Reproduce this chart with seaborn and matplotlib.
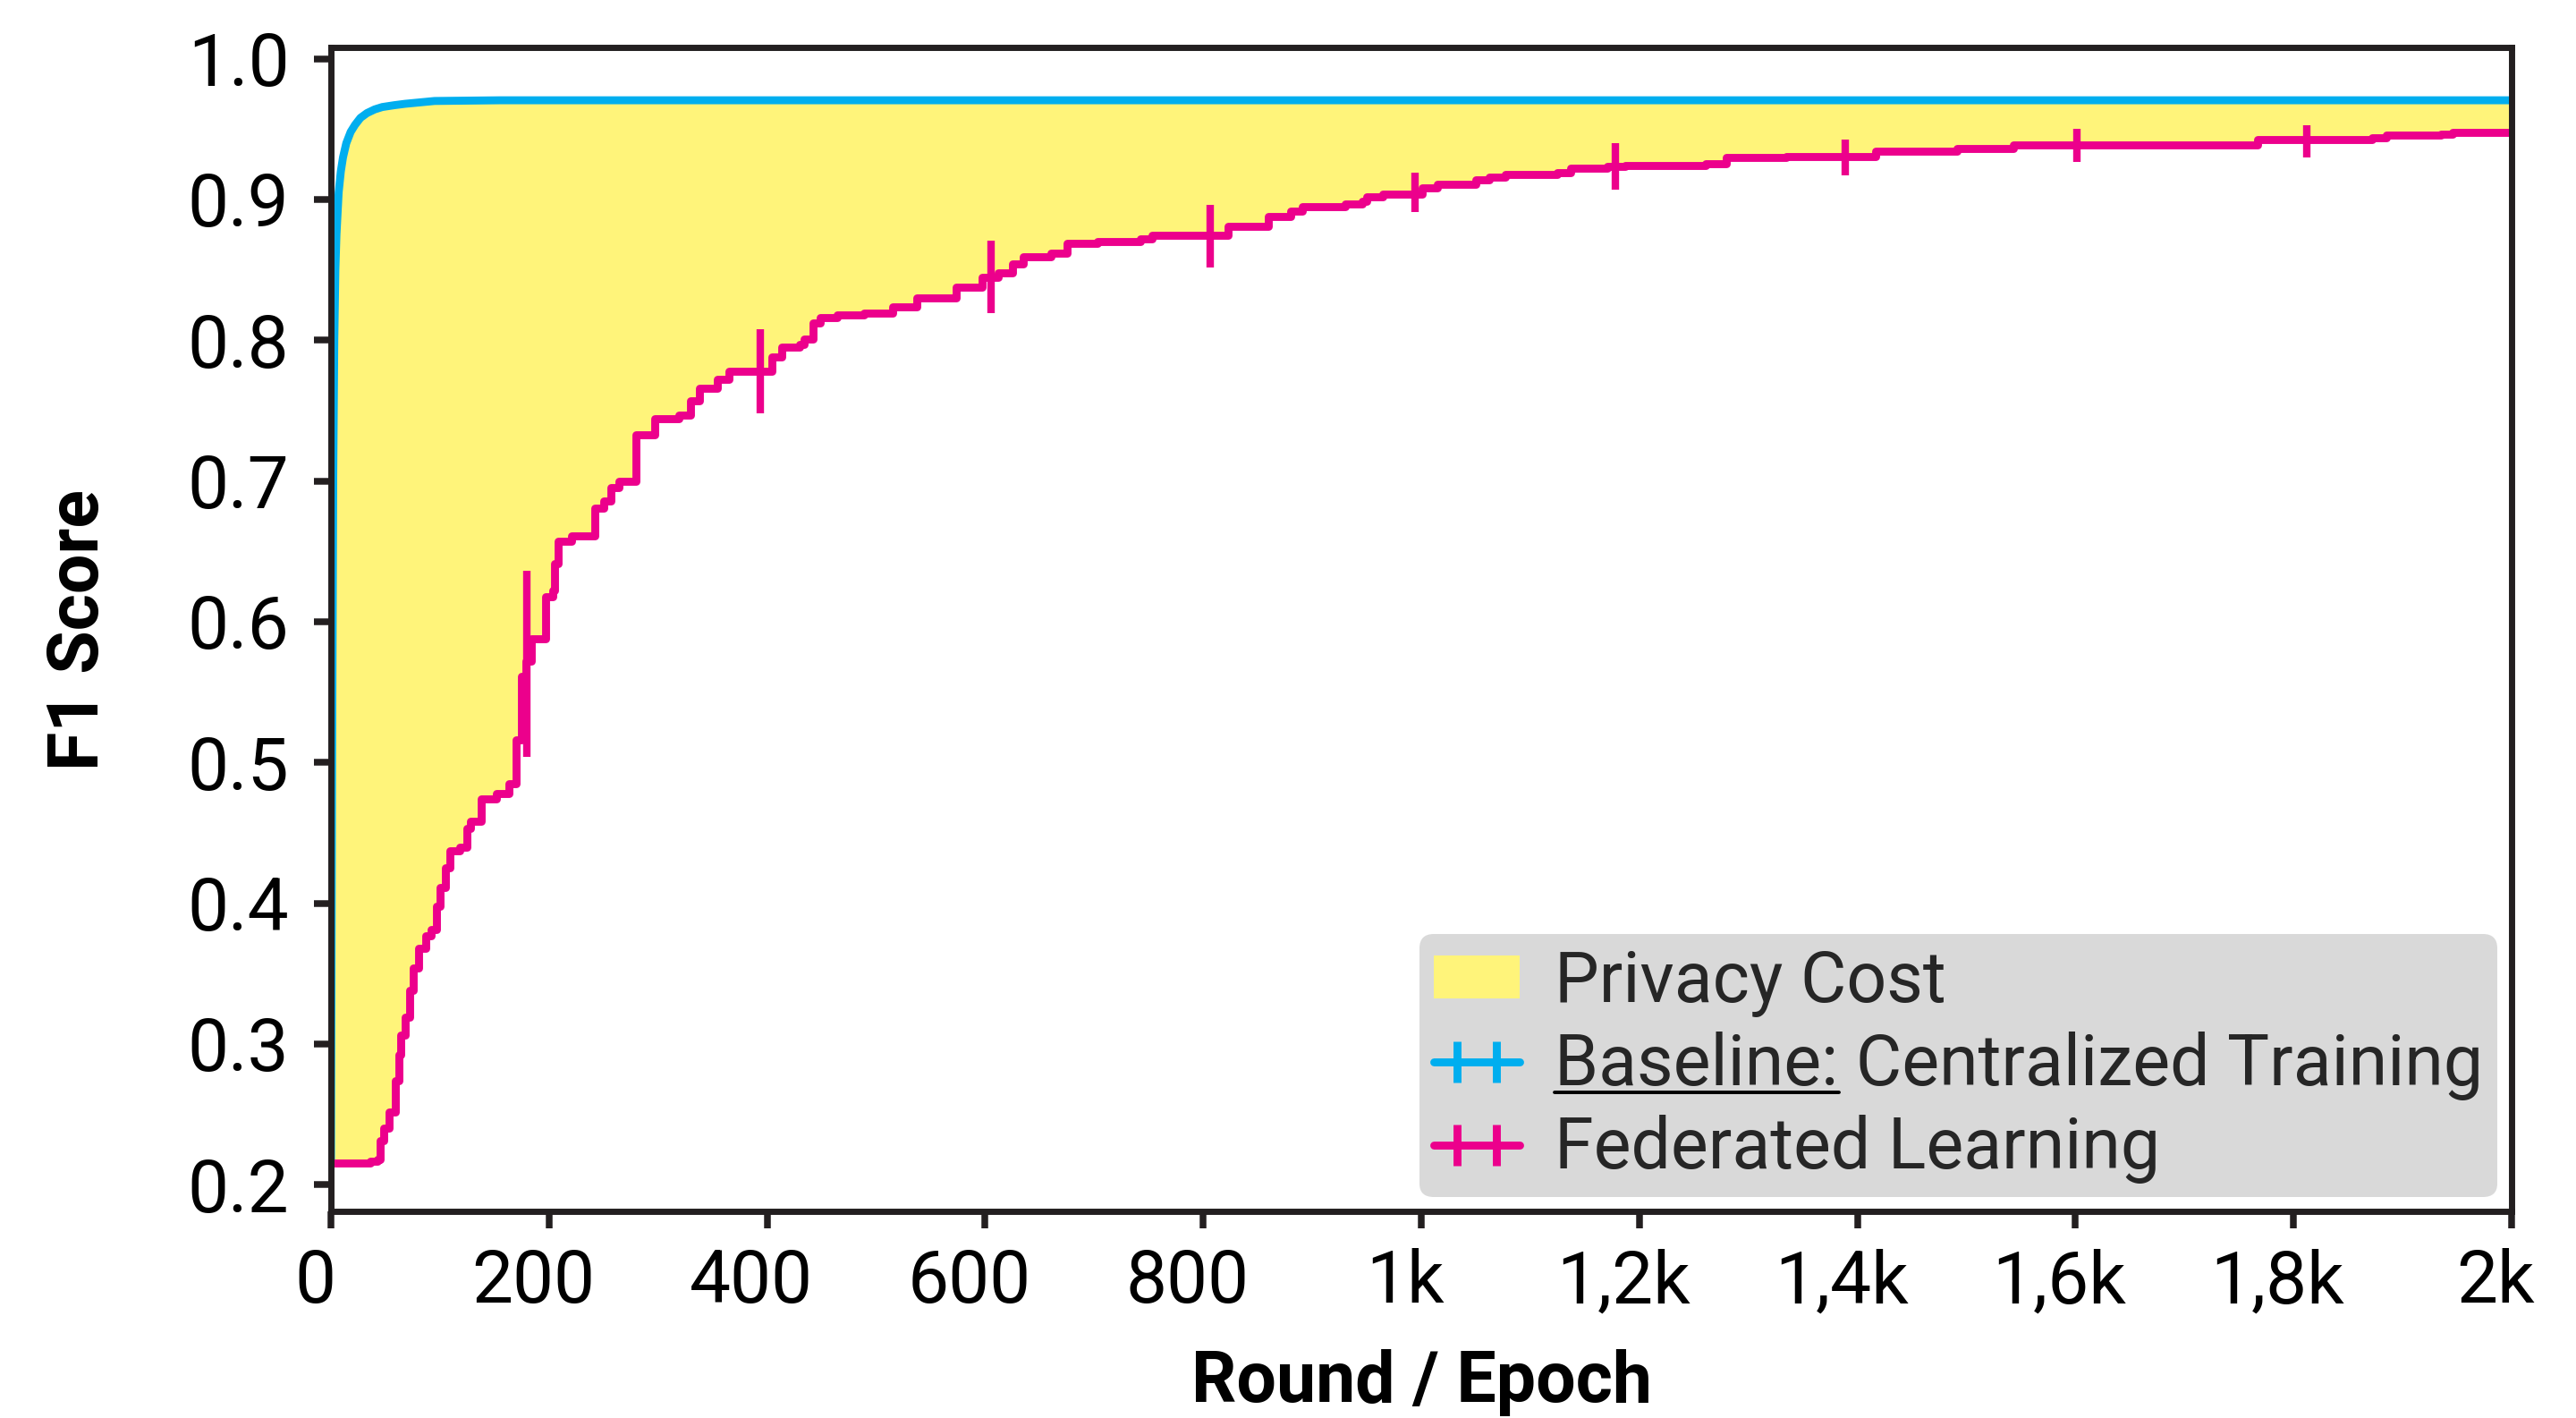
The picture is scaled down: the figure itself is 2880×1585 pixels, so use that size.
import numpy as np
import matplotlib
matplotlib.use("Agg")
import matplotlib.pyplot as plt
import matplotlib.transforms as mtransforms
import seaborn as sns
from matplotlib.lines import Line2D
from matplotlib.patches import Patch
from matplotlib.collections import LineCollection
from matplotlib.container import ErrorbarContainer
from matplotlib.legend_handler import HandlerErrorbar
from matplotlib.ticker import FuncFormatter, MultipleLocator

# --- data ---
# federated learning: F1 per round, values hold until the next listed round
fl_rounds = [0, 36, 43, 45, 48, 53, 59, 62, 64, 68, 72, 75, 80, 87, 92, 97, 100,
             105, 109, 118, 125, 128, 138, 152, 163, 170, 175, 179, 184, 197, 203,
             205, 208, 221, 242, 250, 257, 264, 280, 297, 319, 330, 338, 354, 365,
             404, 413, 430, 434, 442, 449, 464, 489, 515, 537, 573, 597, 612, 625,
             635, 660, 675, 703, 742, 753, 823, 860, 880, 891, 930, 946, 950, 965,
             1001, 1015, 1050, 1062, 1077, 1125, 1137, 1171, 1187, 1261, 1280, 1335,
             1417, 1491, 1543, 1625, 1767, 1872, 1885, 1935, 1946, 2000]
fl_f1 = [0.2155, 0.2165, 0.2176, 0.2314, 0.2399, 0.2515, 0.274, 0.292, 0.306, 0.319,
         0.338, 0.354, 0.368, 0.377, 0.381, 0.398, 0.411, 0.425, 0.437, 0.440, 0.453,
         0.458, 0.474, 0.478, 0.485, 0.516, 0.561, 0.572, 0.588, 0.618, 0.622, 0.641,
         0.657, 0.661, 0.681, 0.686, 0.695, 0.700, 0.733, 0.744, 0.747, 0.757, 0.766,
         0.772, 0.778, 0.788, 0.795, 0.797, 0.801, 0.812, 0.816, 0.818, 0.8195, 0.824,
         0.830, 0.838, 0.845, 0.848, 0.854, 0.859, 0.862, 0.869, 0.870, 0.872, 0.8746,
         0.881, 0.888, 0.8915, 0.8947, 0.897, 0.899, 0.902, 0.904, 0.9085, 0.9106,
         0.9137, 0.916, 0.918, 0.919, 0.9222, 0.9233, 0.9243, 0.9254, 0.9296, 0.9307,
         0.9343, 0.936, 0.9386, 0.939, 0.9424, 0.944, 0.9455, 0.9466, 0.9477, 0.9477]

# error bars on the federated curve
err_rounds = [180, 394, 605, 806, 994, 1178, 1389, 1601, 1812]
err_mean = [0.570, 0.778, 0.845, 0.874, 0.905, 0.9235, 0.930, 0.9385, 0.9413]
err_half = [0.066, 0.030, 0.026, 0.022, 0.014, 0.0165, 0.0128, 0.0115, 0.0117]

# centralized baseline
base_rounds = [0, 1, 2, 3, 4, 5, 6, 7, 9, 11, 14, 18, 22, 27, 33, 40, 47, 58, 68,
               95, 155, 2000]
base_f1 = [0.2155, 0.50, 0.70, 0.80, 0.85, 0.875, 0.89, 0.905, 0.92, 0.93, 0.94,
           0.948, 0.953, 0.958, 0.9614, 0.964, 0.9657, 0.967, 0.968, 0.970, 0.9705,
           0.9705]

labels = ["Privacy Cost", "Baseline: Centralized Training", "Federated Learning"]

PINK = "#ec008c"
BLUE = "#00aeef"
YELLOW = "#fff47a"
DARK = "#231f20"
LW = 3.2
TICK_FS = 29.5
LEG_FS = 28.4
LAB_FS = 28.4

sns.set_theme(style="white")
plt.rcParams["font.family"] = ["Roboto", "DejaVu Sans"]

fig = plt.figure(figsize=(14.4, 7.925), dpi=200)
ax = fig.add_axes([0.1285, 0.1457, 0.8465, 0.8208])

# privacy cost area between the two curves
grid = np.union1d(np.arange(0, 2001), np.union1d(fl_rounds, base_rounds))
idx = np.searchsorted(fl_rounds, grid, side="right") - 1
fl_on_grid = np.asarray(fl_f1)[idx]
base_on_grid = np.interp(grid, base_rounds, base_f1)
ax.fill_between(grid, fl_on_grid, base_on_grid, color=YELLOW, lw=0, zorder=1)

sns.lineplot(x=base_rounds, y=base_f1, ax=ax, color=BLUE, lw=LW, estimator=None,
             errorbar=None, zorder=3)
sns.lineplot(x=fl_rounds, y=fl_f1, ax=ax, color=PINK, lw=LW, estimator=None,
             errorbar=None, drawstyle="steps-post", zorder=3)
ax.errorbar(err_rounds, err_mean, yerr=err_half, fmt="none", ecolor=PINK,
            elinewidth=3.0, capsize=0, zorder=4)

ax.set_xlim(0, 2000)
ax.set_ylim(0.181, 1.008)
ax.xaxis.set_major_locator(MultipleLocator(200))
ax.yaxis.set_major_locator(MultipleLocator(0.1))


def fmt_k(v, pos):
    if v < 1000:
        return f"{v:.0f}"
    return f"{v / 1000:g}".replace(".", ",") + "k"


ax.xaxis.set_major_formatter(FuncFormatter(fmt_k))
ax.yaxis.set_major_formatter(FuncFormatter(lambda v, p: f"{v:.1f}"))

for s in ax.spines.values():
    s.set_color(DARK)
    s.set_linewidth(2.5)
    s.set_zorder(5)
ax.tick_params(axis="both", which="major", direction="out", length=6.8, width=2.7,
               color=DARK, labelsize=TICK_FS, labelcolor="black", bottom=True, left=True)
ax.tick_params(axis="y", pad=10)
ax.tick_params(axis="x", pad=8)

# x tick labels sit a little left of their ticks in the reference
shift = mtransforms.ScaledTranslation(-18 / 200, 0, fig.dpi_scale_trans)
for lab in ax.get_xticklabels():
    lab.set_transform(lab.get_transform() + shift)

ax.set_xlabel("Round / Epoch", fontsize=LAB_FS, fontweight="bold", color="black")
ax.set_ylabel("F1 Score", fontsize=LAB_FS, fontweight="bold", color="black")
ax.xaxis.set_label_coords(0.5, -0.118)
ax.yaxis.set_label_coords(-0.10, 0.5)


# legend: line with two vertical bars ("++")
class PlusPlus(HandlerErrorbar):
    def get_xdata(self, legend, xdescent, ydescent, width, height, fontsize):
        xdata = [-xdescent, -xdescent + width]
        xmark = [-xdescent + 0.27 * width, -xdescent + 0.73 * width]
        return xdata, xmark


def err_handle(color):
    line = Line2D([], [], color=color, lw=LW)
    bars = LineCollection([], colors=color, linewidths=LW)
    return ErrorbarContainer((line, (), (bars,)), has_xerr=False, has_yerr=True)


handles = [Patch(facecolor=YELLOW, edgecolor="none"), err_handle(BLUE), err_handle(PINK)]
leg = ax.legend(handles, labels, loc="lower right", fontsize=LEG_FS, frameon=True,
                fancybox=True, facecolor="#d9d9d9", edgecolor="none", framealpha=1,
                handlelength=1.22, handleheight=0.55, handletextpad=0.5,
                borderpad=0.2, labelspacing=0.2, borderaxespad=0.2,
                handler_map={ErrorbarContainer: PlusPlus(yerr_size=0.29)})
leg.set_zorder(6)

# underline "Baseline:"
fig.canvas.draw()
renderer = fig.canvas.get_renderer()
t = leg.get_texts()[1]
bb = t.get_window_extent(renderer)
fp = t.get_fontproperties()
w, _, _ = renderer.get_text_width_height_descent("Baseline:", fp, ismath=False)
_, _, d = renderer.get_text_width_height_descent("lp", fp, ismath=False)
y_ul = bb.y0 + d - 7
inv = fig.transFigure.inverted()
(x0, y0), (x1, _) = inv.transform([(bb.x0, y_ul), (bb.x0 + w, y_ul)])
fig.add_artist(Line2D([x0, x1], [y0, y0], color="black", lw=1.4, zorder=10))

fig.savefig("out.png", dpi=200)
